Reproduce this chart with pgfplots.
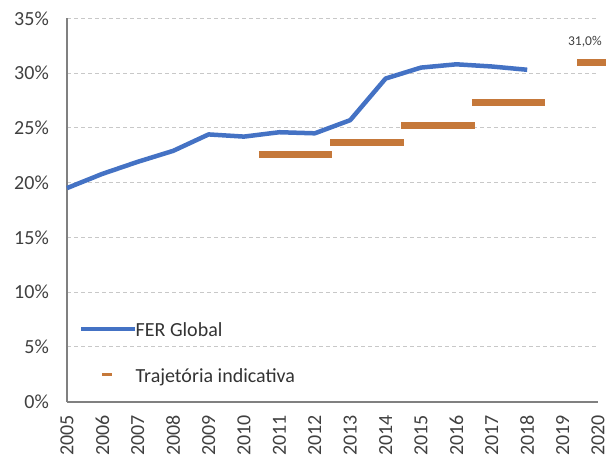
\documentclass[border=0pt]{standalone}
\usepackage{fontspec}
\setmainfont{Carlito}
\usepackage{pgfplots}
\pgfplotsset{compat=1.18}
\definecolor{ferblue}{RGB}{68,114,196}
\definecolor{trajorange}{RGB}{197,120,58}
\definecolor{gridgray}{RGB}{200,200,200}
\definecolor{axisgray}{RGB}{128,128,128}
\definecolor{txt}{RGB}{64,64,64}
\begin{document}
\begin{tikzpicture}
\begin{axis}[
  at={(0,0)}, anchor=south west,
  scale only axis,
  width=531bp, height=383.4bp,
  xmin=2005, xmax=2020, ymin=0, ymax=35,
  axis x line*=bottom, axis y line*=left,
  axis line style={axisgray, line width=1.6bp, -},
  xtick={2005,2006,...,2020},
  xticklabels={2005,2006,2007,2008,2009,2010,2011,2012,2013,2014,2015,2016,2017,2018,2019,2020},
  ytick={0,5,10,15,20,25,30,35},
  yticklabels={0\%,5\%,10\%,15\%,20\%,25\%,30\%,35\%},
  major tick length=0pt,
  ymajorgrids,
  grid style={gridgray, line width=1bp, dash pattern=on 4bp off 3bp},
  tick label style={font=\fontsize{20bp}{24bp}\selectfont, text=txt, inner sep=0pt},
  yticklabel style={anchor=east},
  yticklabel shift=18bp,
  xticklabel style={rotate=90, anchor=east},
  xticklabel shift=13bp,
  clip=false,
  unbounded coords=jump,
  legend style={at={(0,0)}, anchor=south west, xshift=12bp, yshift=16bp,
    draw=none, fill=none, inner sep=0pt, row sep=23bp, column sep=-4bp,
    font=\fontsize{20bp}{24bp}\selectfont, text=black!80,
    cells={anchor=west}},
]
\addplot[ferblue, line width=4.5bp, line join=round,
  legend image code/.code={\draw[ferblue, line width=4.5bp] (0bp,0bp) -- (54bp,0bp);}]
coordinates {
(2005,19.5) (2006,20.8) (2007,21.9) (2008,22.9) (2009,24.4) (2010,24.2)
(2011,24.6) (2012,24.5) (2013,25.7) (2014,29.5) (2015,30.5) (2016,30.8)
(2017,30.6) (2018,30.3)
};
\addlegendentry{\strut FER Global}
\addplot[trajorange, line width=7bp, line cap=butt,
  legend image code/.code={\path[draw=none] (0bp,-1bp) rectangle (54bp,1bp); \draw[trajorange, line width=3bp] (21bp,0bp) -- (31bp,0bp);}]
coordinates {
(2010.42,22.6) (2012.48,22.6) (2012.46,nan)
(2012.44,23.7) (2014.51,23.7) (2014.47,nan)
(2014.44,25.2) (2016.52,25.2) (2016.47,nan)
(2016.44,27.3) (2018.50,27.3) (2018.9,nan)
(2019.41,31.0) (2021.46,31.0)
};
\addlegendentry{\strut Trajetória indicativa}
\node[font=\fontsize{13.5bp}{16bp}\selectfont, text=txt] at (axis cs:2019.63,32.88) {31,0\%};
\end{axis}
\pgfresetboundingbox
\path[use as bounding box] (-67bp,-55.3bp) rectangle (539bp,401.7bp);
\end{tikzpicture}
\end{document}
